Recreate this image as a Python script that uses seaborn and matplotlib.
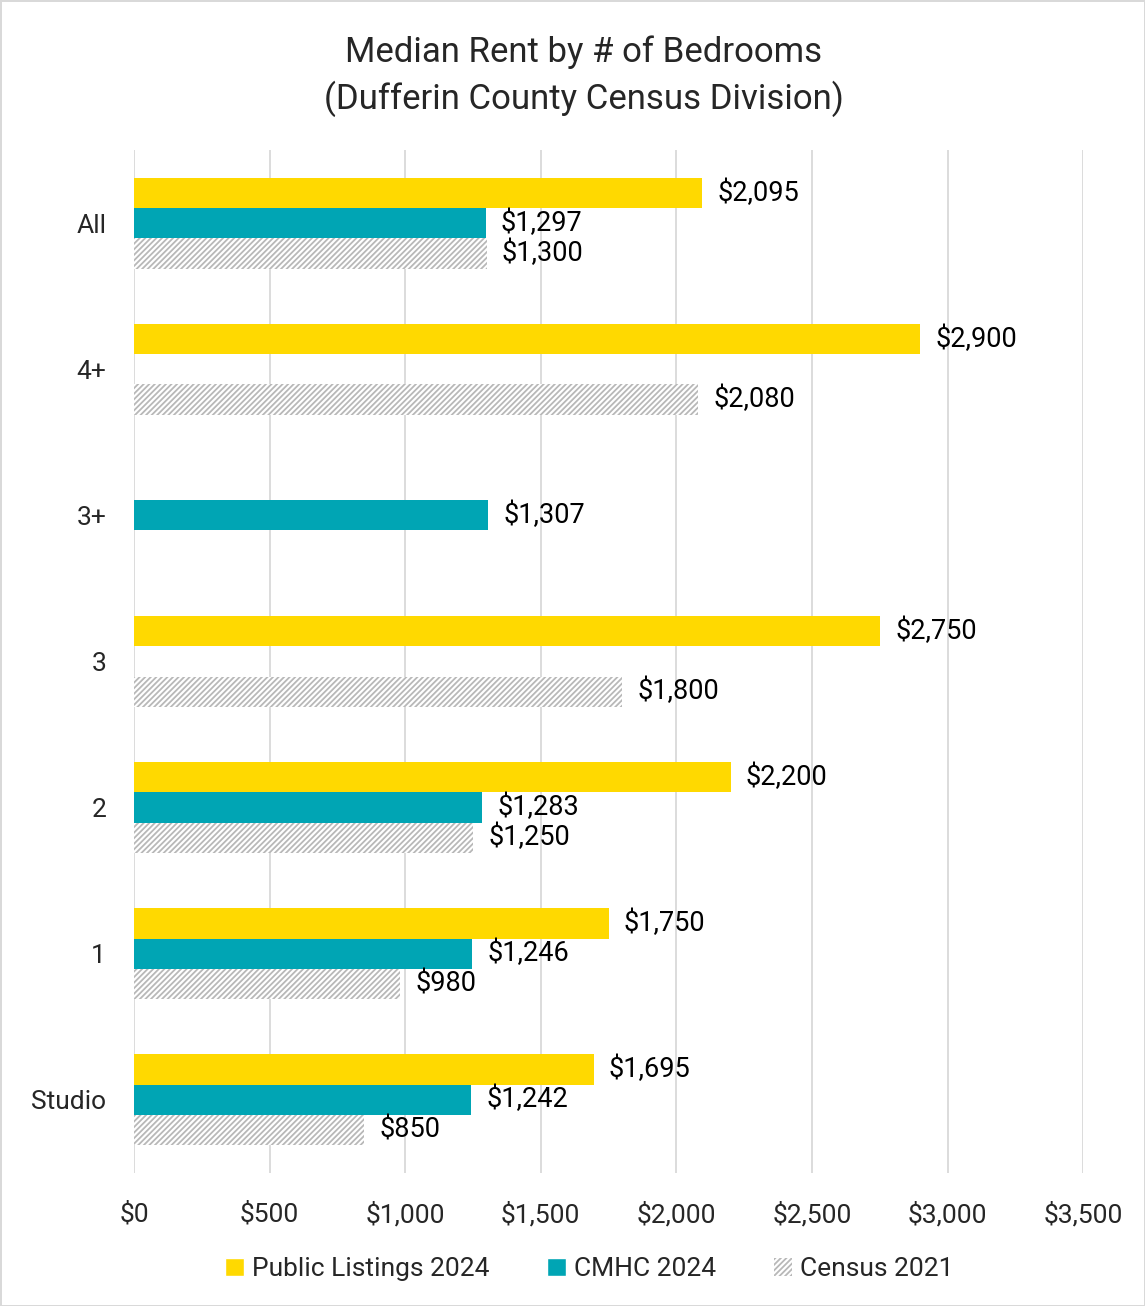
import numpy as np
import pandas as pd
import seaborn as sns
import matplotlib.pyplot as plt
from matplotlib.patches import Patch

# -----------------------------------------------------------------------------
# Data
categories = ["All", "4+", "3+", "3", "2", "1", "Studio"]
series = ["Public Listings 2024", "CMHC 2024", "Census 2021"]
public_2024 = [2095, 2900, np.nan, 2750, 2200, 1750, 1695]
cmhc_2024 = [1297, np.nan, 1307, np.nan, 1283, 1246, 1242]
census_2021 = [1300, 2080, np.nan, 1800, 1250, 980, 850]
x_ticks = [0, 500, 1000, 1500, 2000, 2500, 3000, 3500]

colors = ["#FFD900", "#00A5B4", "white"]
hatch_grey = "#b8b8b8"

df = pd.DataFrame({
    "Bedrooms": categories * 3,
    "Series": [s for s in series for _ in categories],
    "Rent": public_2024 + cmhc_2024 + census_2021,
})

# -----------------------------------------------------------------------------
# Plot
sns.set_style("white")
plt.rcParams["font.family"] = ["Roboto", "DejaVu Sans"]
plt.rcParams["hatch.color"] = hatch_grey
plt.rcParams["hatch.linewidth"] = 1.3

fig = plt.figure(figsize=(11.45, 13.06), dpi=100)
ax = fig.add_axes([0.117, 0.102, 0.829, 0.783])

sns.barplot(data=df, x="Rent", y="Bedrooms", hue="Series", order=categories,
            hue_order=series, palette=colors, saturation=1, width=0.62,
            errorbar=None, ax=ax, legend=False, linewidth=0)

# hatched census bars
for patch in ax.containers[2]:
    patch.set_facecolor("white")
    patch.set_hatch("//////")
    patch.set_edgecolor(hatch_grey)
    patch.set_linewidth(0)

for cont in ax.containers:
    ax.bar_label(cont, fmt=lambda v: "${:,.0f}".format(v), padding=11,
                 fontsize=19.5, color="black")

ax.set_xlim(0, 3500)
ax.set_xticks(x_ticks)
ax.set_xticklabels(["${:,}".format(t) for t in x_ticks])
ax.set_xlabel("")
ax.set_ylabel("")
ax.grid(axis="x", color="#d9d9d9", linewidth=1.3)
ax.set_axisbelow(True)
sns.despine(ax=ax, left=True, bottom=True)
ax.tick_params(axis="x", length=0, pad=21, labelsize=19)
ax.tick_params(axis="y", length=0, pad=20, labelsize=19)

fig.text(0.51, 0.973, "Median Rent by # of Bedrooms\n(Dufferin County Census Division)",
         ha="center", va="top", fontsize=25, linespacing=1.4)

handles = [
    Patch(facecolor=colors[0], label=series[0]),
    Patch(facecolor=colors[1], label=series[1]),
    Patch(facecolor="white", hatch="//////", edgecolor=hatch_grey,
          linewidth=0, label=series[2]),
]
fig.legend(handles=handles, loc="center", bbox_to_anchor=(0.515, 0.028),
           ncol=3, frameon=False, fontsize=19, handlelength=0.7,
           handleheight=0.7, handletextpad=0.3, columnspacing=2.2)

fig.patch.set_edgecolor("#d9d9d9")
fig.patch.set_linewidth(2)

plt.savefig("out.png", dpi=100)
plt.close()
